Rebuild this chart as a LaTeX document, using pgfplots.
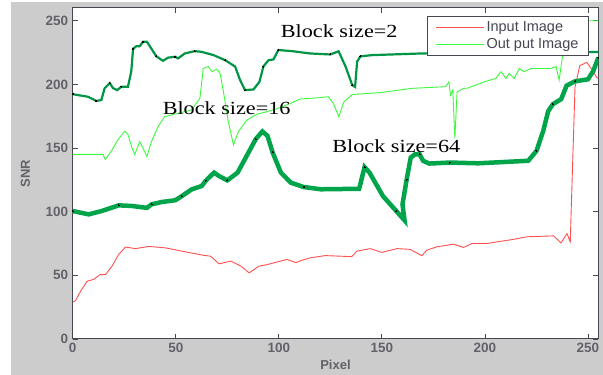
\documentclass[border=0pt]{standalone}
\usepackage{pgfplots}
\pgfplotsset{compat=1.18}
\usepackage{fontspec}
\setmainfont{Liberation Serif}
\setsansfont{Liberation Sans}
\definecolor{figgray}{RGB}{204,204,204}
\definecolor{axgray}{RGB}{70,70,80}
\definecolor{redline}{RGB}{255,80,80}
\definecolor{lgreen}{RGB}{60,250,60}
\definecolor{dgreen}{RGB}{0,165,75}
\definecolor{dgreenB}{RGB}{0,150,70}
\begin{document}
\begin{tikzpicture}[x=1pt,y=1pt]
\fill[white] (0,0) rectangle (603,375);
\fill[figgray] (11,0) rectangle (603,373);
\begin{axis}[
  at={(72.7pt,36pt)}, anchor=south west,
  scale only axis, width=525.6pt, height=331pt,
  xmin=0, xmax=255, ymin=0, ymax=260,
  axis background/.style={fill=white},
  axis line style={axgray, line width=1pt},
  tick style={axgray, line width=0.8pt},
  tick align=inside, major tick length=5pt,
  xtick={0,50,...,250}, ytick={0,50,...,250},
  /pgf/number format/assume math mode=true,
  ticklabel style={font=\sffamily\bfseries\fontsize{13.5}{13.5}\selectfont, text=axgray!85!white},
  xticklabel style={yshift=-1pt},
  yticklabel style={xshift=-1pt},
  every axis x label/.style={at={(axis description cs:0.5,-0.0785)}, anchor=center},
  every axis y label/.style={at={(axis description cs:-0.090,0.5)}, rotate=90, anchor=center},
  xlabel={Pixel}, ylabel={SNR},
  label style={font=\sffamily\bfseries\fontsize{13}{13}\selectfont, text=axgray!85!white},
  legend style={at={(axis description cs:0.982,0.976)}, anchor=north east,
    draw=axgray, line width=0.8pt, fill=white,
    font=\sffamily\fontsize{14.5}{14.5}\selectfont,
    inner xsep=8pt, inner ysep=2pt, row sep=0pt,
    nodes={inner ysep=3pt}},
  legend cell align=left,
]
% Input Image (red)
\addplot[color=redline, line width=0.9pt,
  legend image code/.code={\draw[draw=redline, line width=1.1pt] (0pt,0pt) -- (48pt,0pt);}] coordinates {
(0,29)(1.3,30)(4,38)(7,45.4)(10,46.7)(13.4,50.6)(15.9,50.6)(19,57)(22.3,66.4)(25.6,72.2)
(30.4,71)(36.9,72.7)(45,71.6)(53,69)(62.8,65.9)(67,65)(71,59)(76.7,61.2)(81.6,57.2)(85.6,52)
(90.4,57.2)(94.5,58.5)(99.4,60.6)(104,62.5)(108.3,60)(110.7,61.6)(115.5,63.8)(122.5,65.5)
(135.4,64.7)(137.8,69)(144.3,71)(150,68)(157.3,71)(163.7,70.4)(169.4,65.4)(171.8,69.8)
(176.7,72.4)(184.8,74.5)(189.6,71.9)(193.7,75)(201,75)(205.8,76.3)(213.7,78.2)(220.4,80.3)
(233.3,81)(236.9,75.5)(239.8,82.8)(241.4,76.3)(241.9,104)(243.7,197.6)(246,214.7)(249.4,217.3)
(251.8,212)(254.2,205.5)(255,205)
};
\addlegendentry{\textcolor{axgray}{Input Image}}
% Out put Image (light green, block size 16)
\addplot[color=lgreen, line width=0.9pt,
  legend image code/.code={\draw[draw=lgreen, line width=1.1pt] (0pt,0pt) -- (48pt,0pt);}] coordinates {
(0,145)(14.7,145)(15.8,141)(18.7,147.5)(22,156.7)(25.3,163.3)(26.8,160.6)(28.8,150)(30.1,144.9)
(32.5,155)(34.1,150)(36,143.3)(38.2,155)(41.4,166.7)(44.6,174.6)(51.1,177.3)(57.6,179.8)
(61.7,189)(62.9,206)(63.3,212.5)(65.8,214)(67.5,210)(69.9,212)(71.5,208.6)(73,195.5)(75.5,170.7)
(78,152.4)(80.4,163)(84.5,172)(89.3,176.5)(94.2,178.6)(99.8,181.2)(105.5,185)(110.3,188.5)
(120,189.6)(124,190.3)(126.5,185)(129.1,174.6)(131.6,186.4)(135.6,192)(150,193.7)(164.7,196.9)
(180.9,198.2)(182.5,202)(183.3,191.6)(184.4,195.5)(185.4,157.6)(186.5,194.2)(189.8,196.9)
(191.5,197)(199.7,202)(205.3,204.7)(207.8,210)(210.2,204.7)(211.8,208.6)(214.2,204.7)
(216.7,212.5)(219,210)(222.3,212.5)(232,212.5)(234.5,214)(236,203.4)(237.7,223)(239.5,250)(255,250)
};
\addlegendentry{\textcolor{axgray}{Out put Image}}
% Block size = 2 (dark green, medium)
\addplot[dgreenB, line width=2.2pt, mark=*, mark repeat=3, mark size=0.5pt,
  mark options={black, line width=0pt}, forget plot] coordinates {
(0,192.5)(1,192)(7.4,190.3)(11.5,187)(13.9,187.7)(15.5,197)(18,201)(19.6,197)(21.6,195.5)
(23.6,198.2)(26.8,198.2)(28.4,210)(29.3,228)(30.9,230)(32.5,230)(34.1,233.5)(36,233.5)
(38.2,228)(40.6,222)(43.8,218.5)(46.3,221)(49.6,221.7)(51.1,220.4)(54.4,224.3)(59.2,226.1)
(62.4,225.6)(68.3,223)(74,219)(78.8,214)(81.2,203.4)(83.6,195.5)(87.7,196)(90.6,202)
(92.5,214)(95,219)(97.4,219.6)(99.8,227)(107,226)(115,224.3)(125,223.5)(129,226)(132.4,214)
(135.6,199.5)(137,198)(138,218)(139.6,222)(145.3,223)(169.6,224.3)(200,225)(255,225.5)
};
% Block size = 64 (dark green, thick)
\addplot[dgreen, line width=4.5pt, mark=*, mark repeat=3, mark size=0.5pt,
  mark options={black, line width=0pt}, forget plot] coordinates {
(0,100.5)(7.8,97.9)(14,100.5)(22.3,105)(28.6,104.5)(36,103)(38.3,105.8)(43.2,107.6)(49.8,109)
(53,112.3)(57.8,117.6)(62.6,120.2)(64.6,124.4)(68.6,130.7)(71,128)(75,124.6)(80,130.7)
(84.8,145)(88.8,157)(92,163)(94.5,159.6)(97,146.5)(101,130.7)(105.8,122.8)(112,119.4)
(120.4,117.6)(139,118)(141.6,135)(144,130.7)(150.5,112.3)(157,100.5)(161,93.2)(160,105.8)
(162,125)(164,142.5)(166,145)(168.3,145)(170,140)(173,137.8)(183,138.6)(196.7,138)(221,140)
(225,147.7)(228.3,163.5)(230.7,179)(233,184.5)(237,188.4)(239.6,199)(243.7,202.4)(250,204)
(252.6,210.7)(255,221)
};
\node[font=\rmfamily\fontsize{18.5}{18.5}\selectfont, xscale=1.2, inner sep=0pt] at (axis cs:129.3,242) {Block size=2};
\node[font=\rmfamily\fontsize{18.5}{18.5}\selectfont, xscale=1.2, inner sep=0pt] at (axis cs:74.7,181.6) {Block size=16};
\node[font=\rmfamily\fontsize{18.5}{18.5}\selectfont, xscale=1.2, inner sep=0pt] at (axis cs:157,151.4) {Block size=64};
\end{axis}
\end{tikzpicture}
\end{document}
